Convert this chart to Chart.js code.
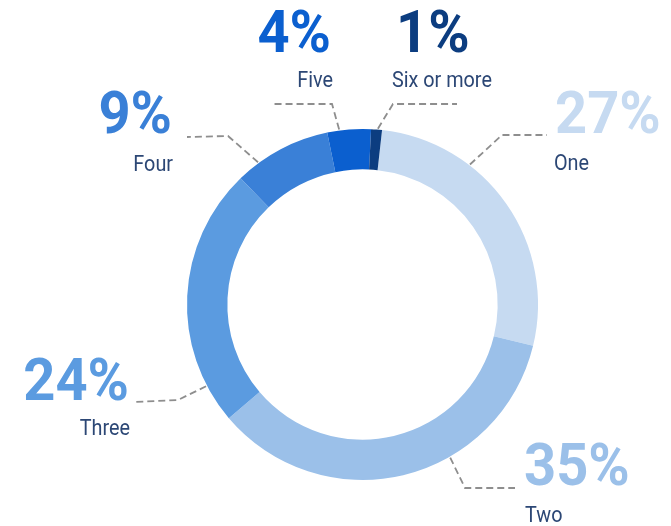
<!DOCTYPE html>
<html>
<head>
<meta charset="utf-8">
<script src="https://cdn.jsdelivr.net/npm/chart.js@4/dist/chart.umd.min.js"></script>
<style>
  html,body{margin:0;padding:0;background:#fff;}
  #wrap{width:671px;height:526px;position:relative;}
</style>
</head>
<body>
<div id="wrap"><canvas id="c"></canvas></div>
<script>
const categories=['One','Two','Three','Four','Five','Six or more'];
const shares=[27,35,24,9,4,1];
const sliceColors=['#c6daf1','#9bc0e9','#5b9be0','#3a80d7','#0b5fcf','#0c3d80'];

// annotation layout: anchor angle on ring (deg clockwise from top), elbow, end of leader, text spots
const callouts=[
  {a:37.5, elbow:[502,135], end:[547,135], align:'left',  pct:[555,133], name:[554,170]},
  {a:150.2,elbow:[465,488], end:[515,488], align:'left',  pct:[524,485], name:[525,522]},
  {a:242.4,elbow:[178,400], end:[133,402], align:'right', pct:[129,400], name:[130,435]},
  {a:323.7,elbow:[228,136], end:[187,137], align:'right', pct:[172,133], name:[173,171]},
  {a:352.4,elbow:[332,104], end:[272,104], align:'right', pct:[331,52],  name:[333,87]},
  {a:5.0,  elbow:[393,104], end:[457,104], align:'left',  pct:[396,52],  name:[392,87]}
];

function squeezedText(ctx,txt,x,y,sx){
  ctx.save();
  ctx.translate(x,y);
  ctx.scale(sx,1);
  ctx.fillText(txt,0,0);
  ctx.restore();
}

const calloutPlugin={
  id:'callouts',
  afterDraw(chart){
    const ctx=chart.ctx;
    const arc=chart.getDatasetMeta(0).data[0];
    const cx=arc.x, cy=arc.y, r=arc.outerRadius+1;
    ctx.save();
    callouts.forEach((c,i)=>{
      const rad=c.a*Math.PI/180;
      const x0=cx+r*Math.sin(rad), y0=cy-r*Math.cos(rad);
      ctx.beginPath();
      ctx.setLineDash([7,4]);
      ctx.strokeStyle='#8e8e8e';
      ctx.lineWidth=1.8;
      ctx.moveTo(x0,y0);
      ctx.lineTo(c.elbow[0],c.elbow[1]);
      ctx.lineTo(c.end[0],c.end[1]);
      ctx.stroke();
      ctx.setLineDash([]);
      ctx.textAlign=c.align;
      ctx.textBaseline='alphabetic';
      ctx.fillStyle=sliceColors[i];
      ctx.font='bold 59px Roboto';
      squeezedText(ctx,shares[i]+'%',c.pct[0],c.pct[1],0.95);
      ctx.fillStyle='#2c4775';
      ctx.font='22px Roboto';
      squeezedText(ctx,categories[i],c.name[0],c.name[1],0.9);
    });
    ctx.restore();
  }
};

new Chart(document.getElementById('c'),{
  type:'doughnut',
  data:{labels:categories,datasets:[{data:shares,backgroundColor:sliceColors,borderWidth:0}]},
  options:{
    responsive:true,maintainAspectRatio:false,animation:false,
    rotation:6.4,cutout:'77%',
    layout:{padding:{top:129,bottom:46,left:187,right:133}},
    plugins:{legend:{display:false},tooltip:{enabled:false}}
  },
  plugins:[calloutPlugin]
});
</script>
</body>
</html>
